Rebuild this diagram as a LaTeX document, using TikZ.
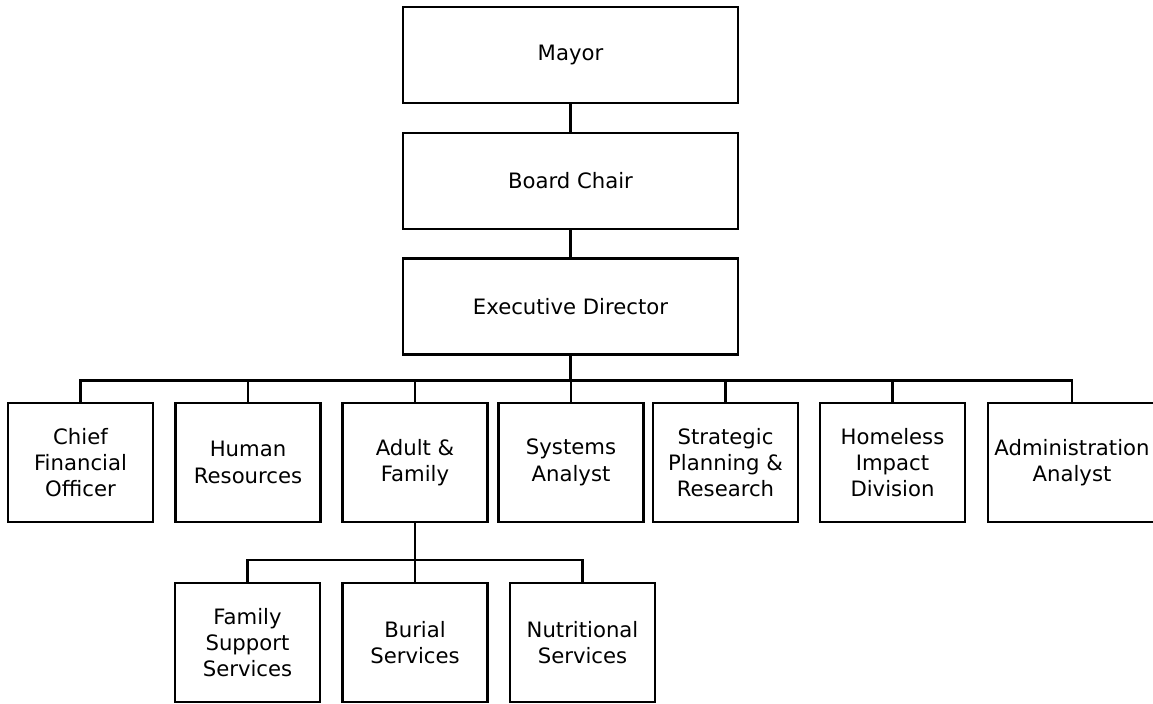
\documentclass[tikz,border=0pt]{standalone}
\usepackage{fontspec}
\setmainfont{DejaVu Sans}
\usetikzlibrary{calc}

\begin{document}
\begin{tikzpicture}[x=0.5pt, y=0.5pt, line width=1.2pt,
  topbox/.style={draw, minimum width=167.5pt, minimum height=48pt, align=center, font=\fontsize{10.6}{13.2}\selectfont},
  unitbox/.style={draw, minimum width=72.5pt, minimum height=59.5pt, inner sep=0pt, align=center, font=\fontsize{10.6}{13.2}\selectfont}]
  \useasboundingbox (0,0) rectangle (1153,703);

  %% Top of the chain
  \node[topbox] (mayor) at (570.5,648) {Mayor};
  \node[topbox] (chair) at (570.5,522) {Board Chair};
  \node[topbox] (ed) at (570.5,396.5) {Executive Director};

  \draw (mayor.south) -- (chair.north);
  \draw (chair.south) -- (ed.north);

  %% Units reporting to the Executive Director
  \node[unitbox] (cfo) at (80.5,240.5) {Chief\\Financial\\Officer};
  \node[unitbox] (hr) at (248,240.5) {Human\\Resources};
  \node[unitbox] (adult) at (415,240.5) {Adult \&\\Family};
  \node[unitbox] (sys) at (571,240.5) {Systems\\Analyst};
  \node[unitbox] (spr) at (725.5,240.5) {Strategic\\Planning \&\\Research};
  \node[unitbox] (hid) at (892.5,240.5) {Homeless\\Impact\\Division};
  \node[unitbox, minimum width=84pt] (admin) at (1072,240.5) {Administration\\Analyst};

  \draw (ed.south) -- ++(0,-25) coordinate (edbar);
  \foreach \n in {cfo,hr,adult,sys,spr,hid,admin}
    \draw (edbar) -| (\n.north);

  %% Adult & Family services
  \node[unitbox] (fss) at (247.5,60.5) {Family\\Support\\Services};
  \node[unitbox] (burial) at (415,60.5) {Burial\\Services};
  \node[unitbox] (nutr) at (582.5,60.5) {Nutritional\\Services};

  \draw (adult.south) -- ++(0,-37) coordinate (afbar);
  \foreach \n in {fss,burial,nutr}
    \draw (afbar) -| (\n.north);
\end{tikzpicture}
\end{document}
